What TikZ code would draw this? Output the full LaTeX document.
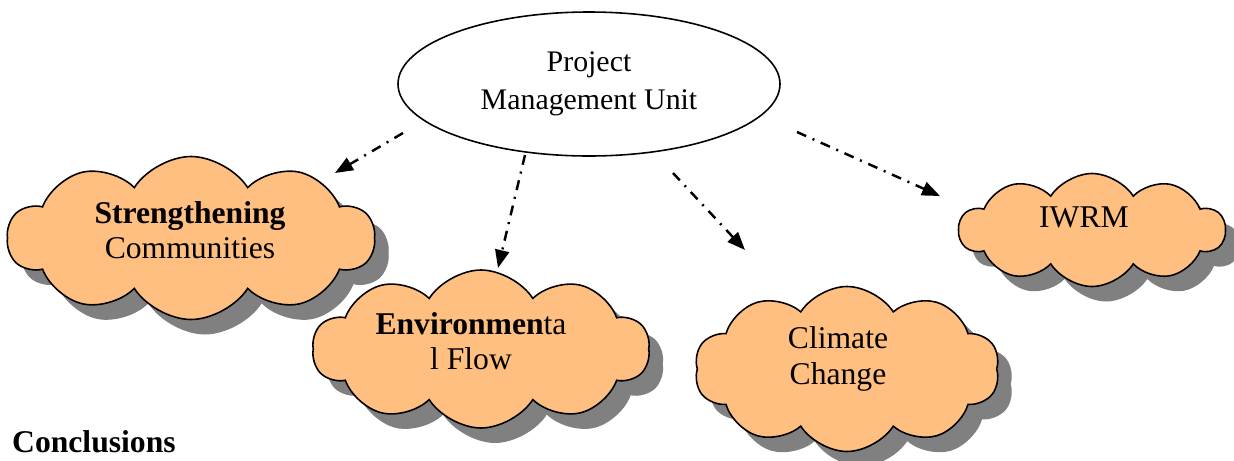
\documentclass[tikz,border=0pt]{standalone}
\usepackage{fontspec}
\setmainfont{Liberation Serif}
\usetikzlibrary{arrows.meta,shapes.geometric,shapes.symbols,shadows}
\definecolor{myOrange}{RGB}{255,191,128}

\begin{document}
\begin{tikzpicture}[
      mycloud/.style={
         cloud,
         cloud puffs=10,
         cloud puff arc=115,
         cloud ignores aspect,
         draw=black,
         line width=0.9pt,
         fill=myOrange,
         inner sep=0pt,
         drop shadow={shadow xshift=0.28cm,shadow yshift=-0.3cm,fill=gray,opacity=1}},
      mytext/.style={align=center,font=\fontsize{18}{20}\selectfont},
      myarrow/.style={-{Triangle[length=0.36cm,width=0.28cm]},
         line width=1.4pt,
         dash pattern=on 0.2cm off 0.14cm on 0.04cm off 0.14cm}
      ]
      \useasboundingbox (0,0) rectangle (24.68,-9.2);

      % top unit
      \node[ellipse,draw=black,line width=0.9pt,minimum width=7.64cm,minimum height=2.88cm,
            align=center,font=\fontsize{17}{21.6}\selectfont] (pmu) at (11.78,-1.68)
            {Project\\Management Unit};

      % clouds
      \node[mycloud,minimum width=7.34cm,minimum height=3.26cm] (sc) at (3.82,-4.76) {};
      \node[mycloud,minimum width=6.74cm,minimum height=3.16cm] (ef) at (9.62,-6.98) {};
      \node[mycloud,minimum width=6.1cm,minimum height=3.3cm] (cc) at (16.94,-7.38) {};
      \node[mycloud,minimum width=5.32cm,minimum height=2.26cm] (iw) at (21.84,-4.6) {};

      \node[mytext] (sc-t) at (3.8,-4.6) {\textbf{Strengthening}\\Communities};
      \node[mytext] (ef-t) at (9.42,-6.82) {\textbf{Environmen}ta\\l Flow};
      \node[mytext] (cc-t) at (16.76,-7.18) {Climate\\Change};
      \node[mytext] (iw-t) at (21.68,-4.34) {IWRM};

      \node[mytext,anchor=base west] (concl) at (0.12,-9.04) {\textbf{Conclusions}};

      % arrow ends
      \coordinate (p1) at (8.06,-2.66);  \coordinate (t1) at (6.7,-3.46);
      \coordinate (p2) at (10.5,-3.1);   \coordinate (t2) at (9.96,-5.36);
      \coordinate (p3) at (13.46,-3.46); \coordinate (t3) at (14.9,-5.0);
      \coordinate (p4) at (15.94,-2.64); \coordinate (t4) at (18.8,-3.92);

    \foreach \i/\j in {p1/t1, p2/t2, p3/t3, p4/t4}
    \draw [myarrow] (\i) -- (\j);
    \end{tikzpicture}
\end{document}
